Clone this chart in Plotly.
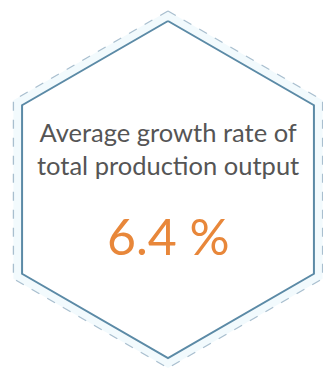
import math
import plotly.graph_objects as go

# Content
label_lines = ["Average growth rate of", "total production output"]
metric_value = 6.4
metric_unit = "%"

W, H = 323, 371
cx, cy = 168, 189.5
r_inner = 168.5
r_outer = 178.5

def hexagon(r):
    xs, ys = [], []
    for k in range(7):
        a = math.radians(-90 + 60 * k)
        xs.append(cx + r * math.cos(a))
        ys.append(cy + r * math.sin(a))
    return xs, ys

fig = go.Figure()
ox, oy = hexagon(r_outer)
fig.add_trace(go.Scatter(x=ox, y=oy, mode="lines", fill="toself",
                         fillcolor="#f2fafd",
                         line=dict(color="#a9bfcf", width=1.3, dash="dash"),
                         hoverinfo="skip"))
ix, iy = hexagon(r_inner)
fig.add_trace(go.Scatter(x=ix, y=iy, mode="lines", fill="toself",
                         fillcolor="#ffffff",
                         line=dict(color="#5b8aa6", width=2),
                         hoverinfo="skip"))

fig.add_annotation(x=cx, y=148, text="<br>".join(label_lines), showarrow=False,
                   font=dict(family="Lato", size=25.5, color="#555555"),
                   align="center", xanchor="center", yanchor="middle")
fig.add_annotation(x=cx, y=236, text=f"{metric_value} {metric_unit}", showarrow=False,
                   font=dict(family="Lato", size=50, color="#e8873a"),
                   xanchor="center", yanchor="middle")

fig.update_layout(width=W, height=H, margin=dict(l=0, r=0, t=0, b=0),
                  paper_bgcolor="white", plot_bgcolor="white", showlegend=False,
                  xaxis=dict(range=[0, W], visible=False, fixedrange=True),
                  yaxis=dict(range=[H, 0], visible=False, fixedrange=True))
fig.write_html("out.html", config={"displayModeBar": False},
               post_script="document.body.style.margin='0';document.body.style.overflow='hidden';")
